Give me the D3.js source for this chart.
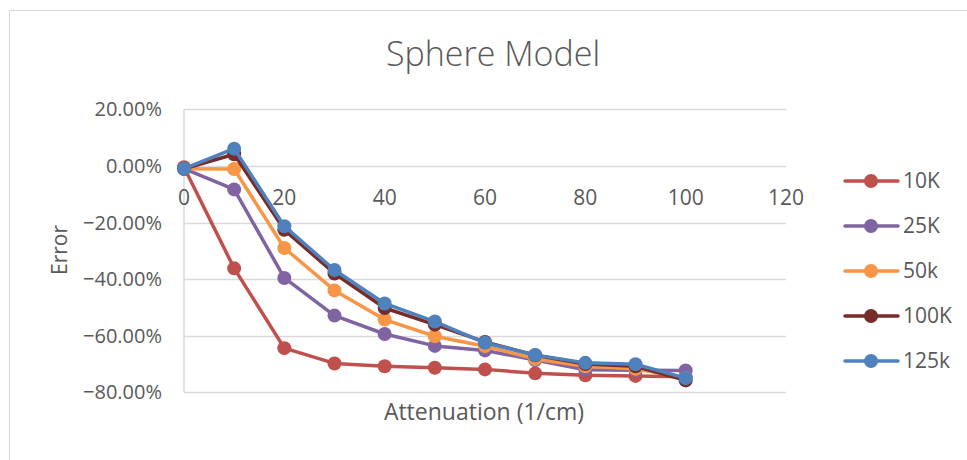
<!DOCTYPE html>
<html>
<head>
<meta charset="utf-8">
<script src="https://cdn.jsdelivr.net/npm/d3@7"></script>
<style>
  body { margin: 0; background: #fff; }
  svg text { font-family: "Open Sans", "Liberation Sans", sans-serif; fill: #595959; }
</style>
</head>
<body>
<div id="chart"></div>
<script>
// data
const attenuation = [0, 10, 20, 30, 40, 50, 60, 70, 80, 90, 100];
const seriesNames = ["10K", "25K", "50k", "100K", "125k"];
const err10K  = [-0.5, -36.2, -64.4, -69.8, -70.8, -71.3, -71.9, -73.3, -74.0, -74.2, -74.5];
const err25K  = [-1.0, -8.3, -39.6, -52.9, -59.4, -63.6, -65.2, -68.6, -72.0, -72.2, -72.3];
const err50k  = [-1.0, -1.1, -29.0, -44.0, -54.3, -60.2, -63.7, -68.2, -70.8, -71.7, -75.0];
const err100K = [-1.0, 4.1, -22.6, -38.0, -50.2, -56.1, -62.2, -66.9, -70.0, -70.8, -75.8];
const err125k = [-1.0, 6.1, -21.3, -36.8, -48.6, -55.0, -62.5, -66.8, -69.6, -70.1, -75.0];
const xTicks = [0, 20, 40, 60, 80, 100, 120];
const yTicks = [20, 0, -20, -40, -60, -80];

const colors = ["#C0504D", "#8064A2", "#F79646", "#772C2A", "#4F81BD"];
const allSeries = [err10K, err25K, err50k, err100K, err125k];

const width = 967, height = 460;

const svg = d3.select("#chart").append("svg")
  .attr("width", width).attr("height", height);

// chart border
svg.append("rect")
  .attr("x", 9.5).attr("y", 10.5)
  .attr("width", width + 10).attr("height", height + 10)
  .attr("fill", "#fff").attr("stroke", "#d9d9d9").attr("stroke-width", 1);

const xScale = d3.scaleLinear().domain([0, 120]).range([184, 786]);
const yScale = d3.scaleLinear().domain([-80, 20]).range([392.3, 109.3]);

// gridlines
svg.append("g").selectAll("line")
  .data(yTicks)
  .enter().append("line")
  .attr("x1", xScale(0)).attr("x2", xScale(120))
  .attr("y1", d => Math.round(yScale(d)) + 0.5)
  .attr("y2", d => Math.round(yScale(d)) + 0.5)
  .attr("stroke", "#d9d9d9").attr("stroke-width", 1.5);

// vertical axis line
svg.append("line")
  .attr("x1", xScale(0)).attr("x2", xScale(0))
  .attr("y1", yScale(20)).attr("y2", yScale(-80))
  .attr("stroke", "#d9d9d9").attr("stroke-width", 1.5);

// y tick labels
svg.append("g").selectAll("text")
  .data(yTicks)
  .enter().append("text")
  .attr("x", 162).attr("y", d => yScale(d))
  .attr("dy", "0.35em")
  .attr("text-anchor", "end")
  .attr("font-size", "20px")
  .text(d => d3.format(".2f")(d) + "%");

// x tick labels (sit under the 0% line)
svg.append("g").selectAll("text")
  .data(xTicks)
  .enter().append("text")
  .attr("x", d => xScale(d)).attr("y", yScale(0) + 39)
  .attr("text-anchor", "middle")
  .attr("font-size", "21px")
  .text(d => d);

// lines and markers
const line = d3.line()
  .x((d, i) => xScale(attenuation[i]))
  .y(d => yScale(d));

allSeries.forEach((vals, k) => {
  const g = svg.append("g");
  g.append("path")
    .attr("d", line(vals))
    .attr("fill", "none")
    .attr("stroke", colors[k])
    .attr("stroke-width", 3.5)
    .attr("stroke-linejoin", "round");
  g.selectAll("circle")
    .data(vals)
    .enter().append("circle")
    .attr("cx", (d, i) => xScale(attenuation[i]))
    .attr("cy", d => yScale(d))
    .attr("r", 7)
    .attr("fill", colors[k]);
});

// title
svg.append("text")
  .attr("x", 493).attr("y", 66)
  .attr("text-anchor", "middle")
  .attr("font-size", "34px")
  .attr("font-weight", 300)
  .text("Sphere Model");

// axis titles
svg.append("text")
  .attr("x", 484).attr("y", 420)
  .attr("text-anchor", "middle")
  .attr("font-size", "23px")
  .text("Attenuation (1/cm)");

svg.append("text")
  .attr("transform", "translate(67,250) rotate(-90)")
  .attr("text-anchor", "middle")
  .attr("font-size", "21px")
  .text("Error");

// legend
const legend = svg.append("g");
seriesNames.forEach((name, k) => {
  const ly = 181 + k * 45;
  legend.append("line")
    .attr("x1", 845).attr("x2", 898)
    .attr("y1", ly).attr("y2", ly)
    .attr("stroke", colors[k]).attr("stroke-width", 3.5)
    .attr("stroke-linecap", "round");
  legend.append("circle")
    .attr("cx", 871).attr("cy", ly).attr("r", 7)
    .attr("fill", colors[k]);
  legend.append("text")
    .attr("x", 903).attr("y", ly).attr("dy", "0.35em")
    .attr("font-size", "21px")
    .text(name);
});
</script>
</body>
</html>
